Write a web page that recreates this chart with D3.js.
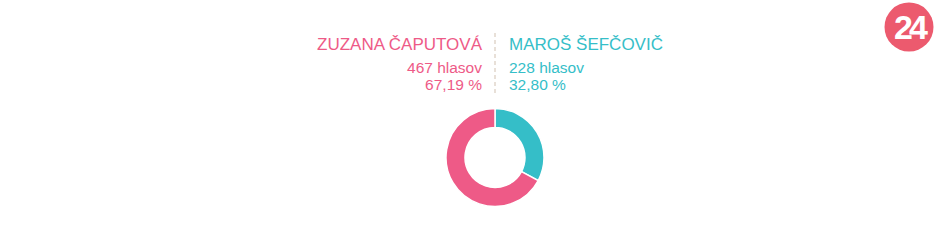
<!DOCTYPE html>
<html>
<head>
<meta charset="utf-8">
<script src="https://cdn.jsdelivr.net/npm/d3@7"></script>
<style>
  html, body { margin: 0; padding: 0; background: #fff; }
  svg { display: block; font-family: "Liberation Sans", Arial, sans-serif; }
</style>
</head>
<body>
<div id="chart"></div>
<script>
// ========= DATA =========
const candidates = ["ZUZANA ČAPUTOVÁ", "MAROŠ ŠEFČOVIČ"];
const votes      = [467, 228];
const percents   = ["67,19 %", "32,80 %"];
const colors     = ["#ee5a87", "#35bec8"];

// ========= RENDER =========
const width = 950, height = 242;
const svg = d3.select("#chart").append("svg")
  .attr("width", width)
  .attr("height", height);

const cx = 495;

// nadpisy kandidatov
const header = svg.append("g");
candidates.forEach((name, i) => {
  const left = i === 0;
  const x = left ? cx - 13 : cx + 14;
  const anchor = left ? "end" : "start";
  const g = header.append("g").attr("fill", colors[i]).attr("text-anchor", anchor);
  g.append("text").attr("x", x).attr("y", 50).attr("font-size", 17).text(name);
  g.append("text").attr("x", x).attr("y", 73).attr("font-size", 15.5).text(`${votes[i]} hlasov`);
  g.append("text").attr("x", x).attr("y", 90).attr("font-size", 15.5).text(percents[i]);
});

// deliaca ciara
svg.append("line")
  .attr("x1", cx).attr("x2", cx)
  .attr("y1", 33).attr("y2", 93)
  .attr("stroke", "#e8e0d8")
  .attr("stroke-width", 2)
  .attr("stroke-dasharray", "4,3");

// donut (Sefcovic zacina hore, v smere hodinovych ruciciek)
const pie = d3.pie().sort(null).startAngle(0).endAngle(2 * Math.PI);
const order = [1, 0];
const arcs = pie(order.map(i => votes[i]));
const arc = d3.arc().innerRadius(30).outerRadius(49);

svg.append("g")
  .attr("transform", `translate(${cx},${157.5})`)
  .selectAll("path")
  .data(arcs)
  .join("path")
  .attr("d", arc)
  .attr("fill", (d, j) => colors[order[j]])
  .attr("stroke", "#fff")
  .attr("stroke-width", 1.5);

// logo 24
const logo = svg.append("g").attr("transform", "translate(909,27)");
logo.append("circle").attr("r", 24.5).attr("fill", "#ec5a6e");
logo.append("text")
  .attr("text-anchor", "middle")
  .attr("y", 12)
  .attr("font-size", 34)
  .attr("font-weight", "bold")
  .attr("letter-spacing", -4)
  .attr("fill", "#fff")
  .text("24");
</script>
</body>
</html>
